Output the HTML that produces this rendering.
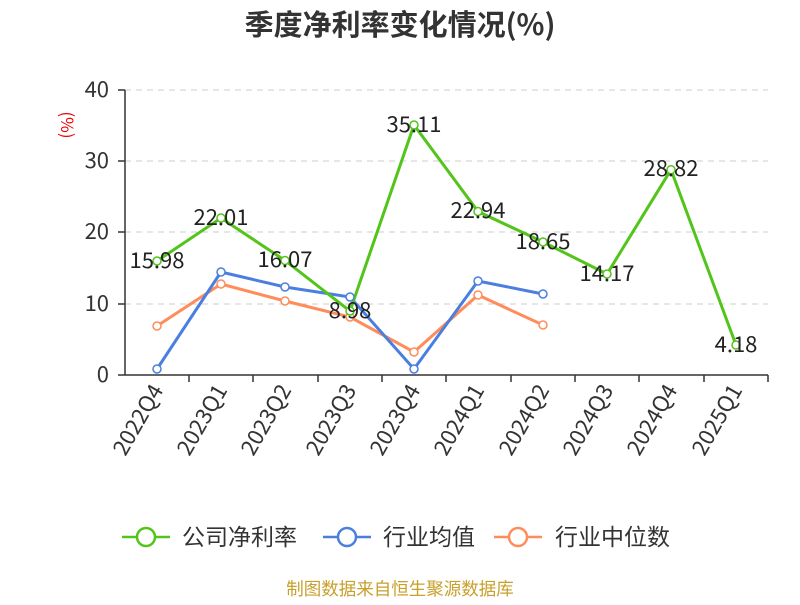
<!DOCTYPE html>
<html><head><meta charset="utf-8"><style>
body{margin:0;background:#fff;}
svg{font-family:"Noto Sans CJK SC","Liberation Sans",sans-serif;}
</style></head><body>
<svg width="800" height="600" viewBox="0 0 800 600">
<text x="400" y="35" text-anchor="middle" font-size="29" font-weight="bold" fill="#333">季度净利率变化情况(%)</text>
<text x="61" y="125" font-size="17" fill="#e00" transform="rotate(90 61 125)" text-anchor="middle">(%)</text>
<g stroke="#ccc" stroke-dasharray="6,5" stroke-width="1">
<line x1="125" y1="90" x2="768" y2="90"/><line x1="125" y1="161" x2="768" y2="161"/>
<line x1="125" y1="232" x2="768" y2="232"/><line x1="125" y1="304" x2="768" y2="304"/>
</g>
<g stroke="#333" stroke-width="1.5">
<line x1="125" y1="90" x2="125" y2="375"/><line x1="125" y1="375" x2="768" y2="375"/>
<line x1="118" y1="90" x2="125" y2="90"/><line x1="118" y1="161" x2="125" y2="161"/><line x1="118" y1="232" x2="125" y2="232"/><line x1="118" y1="304" x2="125" y2="304"/><line x1="118" y1="375" x2="125" y2="375"/>
<line x1="189" y1="375" x2="189" y2="382"/><line x1="253" y1="375" x2="253" y2="382"/><line x1="318" y1="375" x2="318" y2="382"/><line x1="382" y1="375" x2="382" y2="382"/><line x1="446" y1="375" x2="446" y2="382"/><line x1="511" y1="375" x2="511" y2="382"/><line x1="575" y1="375" x2="575" y2="382"/><line x1="639" y1="375" x2="639" y2="382"/><line x1="704" y1="375" x2="704" y2="382"/><line x1="768" y1="375" x2="768" y2="382"/>
</g>
<g font-size="22" fill="#333" text-anchor="end">
<text x="109" y="97">40</text><text x="109" y="168">30</text><text x="109" y="239">20</text><text x="109" y="311">10</text><text x="109" y="382">0</text>
</g>
<g font-size="22" fill="#333" text-anchor="end">
<text transform="translate(164,390) rotate(-60)">2022Q4</text>
<text transform="translate(228,390) rotate(-60)">2023Q1</text>
<text transform="translate(292,390) rotate(-60)">2023Q2</text>
<text transform="translate(357,390) rotate(-60)">2023Q3</text>
<text transform="translate(421,390) rotate(-60)">2023Q4</text>
<text transform="translate(485,390) rotate(-60)">2024Q1</text>
<text transform="translate(550,390) rotate(-60)">2024Q2</text>
<text transform="translate(614,390) rotate(-60)">2024Q3</text>
<text transform="translate(678,390) rotate(-60)">2024Q4</text>
<text transform="translate(743,390) rotate(-60)">2025Q1</text>
</g>
<g fill="none" stroke-width="3">
<polyline stroke="#ff8c5a" points="157,326 221,284 285,301 350,317 414,352 478,295 543,325"/>
<polyline stroke="#4a7fe0" points="157,369 221,272 285,287 350,297 414,369 478,281 543,294"/>
<polyline stroke="#52c41a" points="157,261 221,218 285,260.5 350,311 414,125 478,211.5 543,242 607,274 671,169.7 736,345"/>
</g>
<g fill="#fff" stroke-width="1.5">
<g stroke="#ff8c5a"><circle cx="157" cy="326" r="4"/><circle cx="221" cy="284" r="4"/><circle cx="285" cy="301" r="4"/><circle cx="350" cy="317" r="4"/><circle cx="414" cy="352" r="4"/><circle cx="478" cy="295" r="4"/><circle cx="543" cy="325" r="4"/></g>
<g stroke="#4a7fe0"><circle cx="157" cy="369" r="4"/><circle cx="221" cy="272" r="4"/><circle cx="285" cy="287" r="4"/><circle cx="350" cy="297" r="4"/><circle cx="414" cy="369" r="4"/><circle cx="478" cy="281" r="4"/><circle cx="543" cy="294" r="4"/></g>
<g stroke="#52c41a"><circle cx="157" cy="261" r="4"/><circle cx="221" cy="218" r="4"/><circle cx="285" cy="260.5" r="4"/><circle cx="350" cy="311" r="4"/><circle cx="414" cy="125" r="4"/><circle cx="478" cy="211.5" r="4"/><circle cx="543" cy="242" r="4"/><circle cx="607" cy="274" r="4"/><circle cx="671" cy="169.7" r="4"/><circle cx="736" cy="345" r="4"/></g>
</g>
<g font-size="22" fill="#222" text-anchor="middle">
<text x="157" y="268">15.98</text><text x="221" y="225">22.01</text><text x="285" y="267">16.07</text><text x="350" y="318">8.98</text><text x="414" y="132">35.11</text><text x="478" y="218">22.94</text><text x="543" y="249">18.65</text><text x="607" y="281">14.17</text><text x="671" y="176">28.82</text><text x="736" y="352">4.18</text>
</g>
<g stroke-width="2.5" fill="#fff">
<line x1="122" y1="537" x2="170" y2="537" stroke="#52c41a"/><circle cx="146" cy="537" r="9" stroke="#52c41a"/>
<line x1="323" y1="537" x2="371" y2="537" stroke="#4a7fe0"/><circle cx="347" cy="537" r="9" stroke="#4a7fe0"/>
<line x1="494" y1="537" x2="542" y2="537" stroke="#ff8c5a"/><circle cx="518" cy="537" r="9" stroke="#ff8c5a"/>
</g>
<g font-size="23" fill="#333">
<text x="182" y="545">公司净利率</text><text x="383" y="545">行业均值</text><text x="555" y="545">行业中位数</text>
</g>
<text x="400" y="595" text-anchor="middle" font-size="17.5" fill="#c8a02a">制图数据来自恒生聚源数据库</text>
</svg>
</body></html>
